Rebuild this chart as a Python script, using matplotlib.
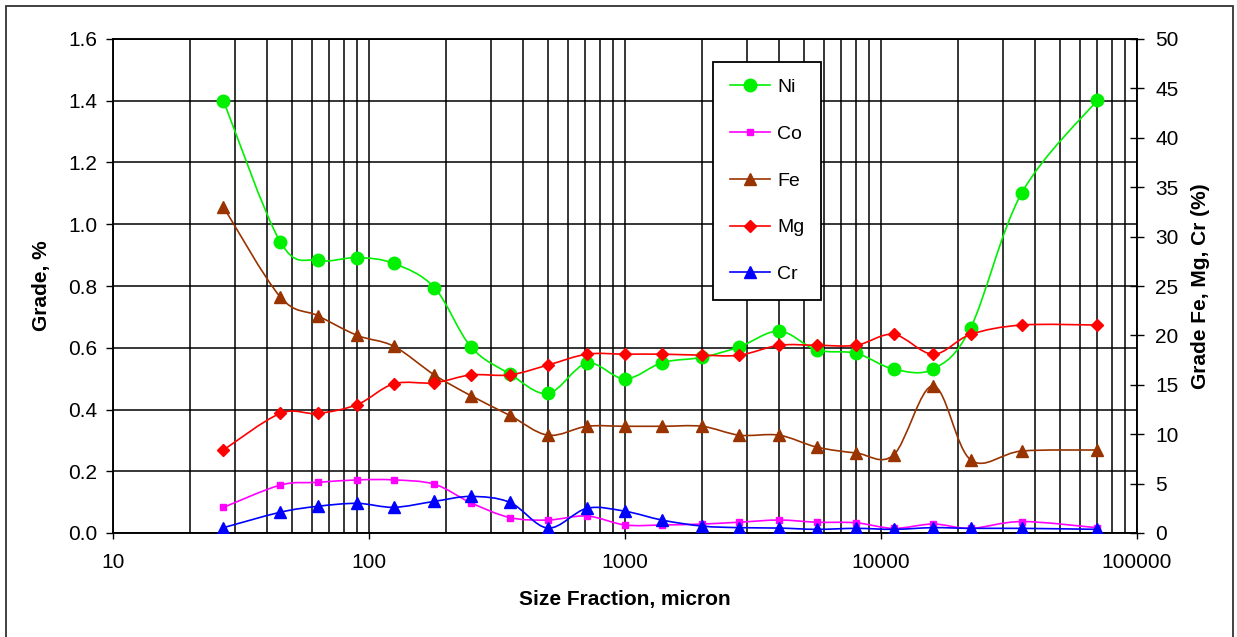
import matplotlib
matplotlib.use('Agg')
import matplotlib.pyplot as plt
import numpy as np
from matplotlib.lines import Line2D
from matplotlib.patches import PathPatch, Rectangle
from matplotlib.path import Path
from matplotlib.ticker import LogLocator, NullFormatter, FixedLocator

plt.rcParams['font.family'] = ['Liberation Sans', 'DejaVu Sans']

# size fraction, micron
size = [27, 45, 63, 90, 125, 180, 250, 355, 500, 710, 1000, 1400, 2000,
        2800, 4000, 5600, 8000, 11200, 16000, 22400, 35500, 70000]

# left axis, grade %
ni = [1.40, 0.943, 0.883, 0.892, 0.873, 0.795, 0.603, 0.515, 0.452, 0.55, 0.499,
      0.552, 0.569, 0.603, 0.654, 0.593, 0.582, 0.531, 0.531, 0.665, 1.102, 1.402]
co = [0.083, 0.155, 0.164, 0.172, 0.172, 0.158, 0.098, 0.050, 0.042, 0.055, 0.026,
      0.026, 0.029, 0.035, 0.042, 0.035, 0.033, 0.015, 0.029, 0.015, 0.037, 0.017]

# right axis, grade %
fe = [33.0, 23.9, 22.0, 20.0, 18.9, 16.0, 13.9, 11.9, 9.9, 10.8, 10.8,
      10.8, 10.8, 9.9, 9.9, 8.7, 8.1, 7.9, 14.9, 7.4, 8.3, 8.4]
mg = [8.4, 12.1, 12.1, 13.0, 15.1, 15.2, 16.0, 16.0, 17.0, 18.1, 18.1,
      18.1, 18.0, 18.0, 19.0, 19.0, 19.0, 20.1, 18.1, 20.1, 21.05, 21.05]
cr = [0.54, 2.1, 2.7, 3.0, 2.6, 3.2, 3.7, 3.1, 0.5, 2.5, 2.2,
      1.3, 0.7, 0.54, 0.5, 0.37, 0.47, 0.37, 0.54, 0.47, 0.47, 0.37]


def smooth_path(xs, ys):
    # excel style smoothed line: bezier segments built in log-x space
    lx = np.log10(np.asarray(xs, dtype=float))
    y = np.asarray(ys, dtype=float)
    n = len(lx)
    verts = [(lx[0], y[0])]
    codes = [Path.MOVETO]
    for i in range(n - 1):
        i0 = max(i - 1, 0)
        i3 = min(i + 2, n - 1)
        c1 = (lx[i] + (lx[i + 1] - lx[i0]) / 6, y[i] + (y[i + 1] - y[i0]) / 6)
        c2 = (lx[i + 1] - (lx[i3] - lx[i]) / 6, y[i + 1] - (y[i3] - y[i]) / 6)
        verts += [c1, c2, (lx[i + 1], y[i + 1])]
        codes += [Path.CURVE4] * 3
    verts = [(10 ** vx, vy) for vx, vy in verts]
    return Path(verts, codes)


W, H = 1237, 637
fig = plt.figure(figsize=(W / 100, H / 100), dpi=100)
ax = fig.add_axes([113 / W, 1 - 533 / H, 1024 / W, 494 / H])
ax2 = ax.twinx()

ax.set_xscale('log')
ax.set_xlim(10, 100000)
ax.set_ylim(0, 1.6)
ax2.set_ylim(0, 50)

ax.set_yticks(np.arange(0, 1.61, 0.2))
ax.set_yticklabels([f'{v:.1f}' for v in np.arange(0, 1.61, 0.2)])
ax2.set_yticks(np.arange(0, 51, 5))
ax.xaxis.set_major_locator(FixedLocator([10, 100, 1000, 10000, 100000]))
ax.set_xticklabels(['10', '100', '1000', '10000', '100000'])
ax.xaxis.set_minor_locator(LogLocator(base=10, subs=np.arange(2, 10)))
ax.xaxis.set_minor_formatter(NullFormatter())

ax.grid(True, which='both', axis='x', color='black', lw=1.1)
ax.grid(True, which='major', axis='y', color='black', lw=1.1)
ax.set_axisbelow(True)
ax.tick_params(axis='x', which='minor', length=0)
ax.tick_params(axis='x', which='major', length=4.5, width=1, pad=10, labelsize=15)
ax.tick_params(axis='y', length=5, width=1, pad=6.5, labelsize=15)
ax2.tick_params(axis='y', direction='inout', length=10, width=1, pad=8, labelsize=15)

for a in (ax, ax2):
    for s in a.spines.values():
        s.set_color('black')
        s.set_linewidth(1.1)

series_left = [(ni, '#00f000', 'o', 9, 'Ni'), (co, '#ff00ff', 's', 5, 'Co')]
series_right = [(fe, '#993300', '^', 9, 'Fe'), (mg, '#ff0000', 'D', 6.5, 'Mg'),
                (cr, '#0000ff', '^', 9, 'Cr')]

handles = {}
for a, group in ((ax, series_left), (ax2, series_right)):
    for vals, c, m, ms, name in group:
        a.add_patch(PathPatch(smooth_path(size, vals), fill=False, edgecolor=c, lw=1.2))
        a.plot(size, vals, ls='none', marker=m, ms=ms, color=c, zorder=3)
        handles[name] = Line2D([], [], color=c, lw=1.2, marker=m, ms=ms)

ax.set_xlabel('Size Fraction, micron', fontsize=15, fontweight='bold')
ax.set_ylabel('Grade, %', fontsize=15, fontweight='bold')
ax2.set_ylabel('Grade Fe, Mg, Cr (%)', fontsize=15, fontweight='bold')
ax.xaxis.set_label_coords(0.5, (533 - 600) / 494)
ax.xaxis.label.set_va('center')
ax.yaxis.set_label_coords((42 - 113) / 1024, 0.5)
ax.yaxis.label.set_va('center')
ax2.yaxis.set_label_coords((1201 - 113) / 1024, 0.5)
ax2.yaxis.label.set_va('center')

names = ['Ni', 'Co', 'Fe', 'Mg', 'Cr']
leg = fig.legend([handles[n] for n in names], names, loc='upper left',
                 bbox_to_anchor=(713 / W, 1 - 62 / H), bbox_transform=fig.transFigure,
                 fontsize=14, frameon=True, fancybox=False, framealpha=1,
                 edgecolor='black', borderpad=0.85, labelspacing=1.5,
                 handlelength=2.1, handletextpad=0.35, borderaxespad=0)
leg.get_frame().set_linewidth(1.3)

fig.patches.append(Rectangle((6 / W, -0.02), (1233 - 6) / W, 1.02 - 6 / H,
                             transform=fig.transFigure, fill=False,
                             edgecolor='#333333', lw=1.3))

fig.savefig('out.png', dpi=100)
